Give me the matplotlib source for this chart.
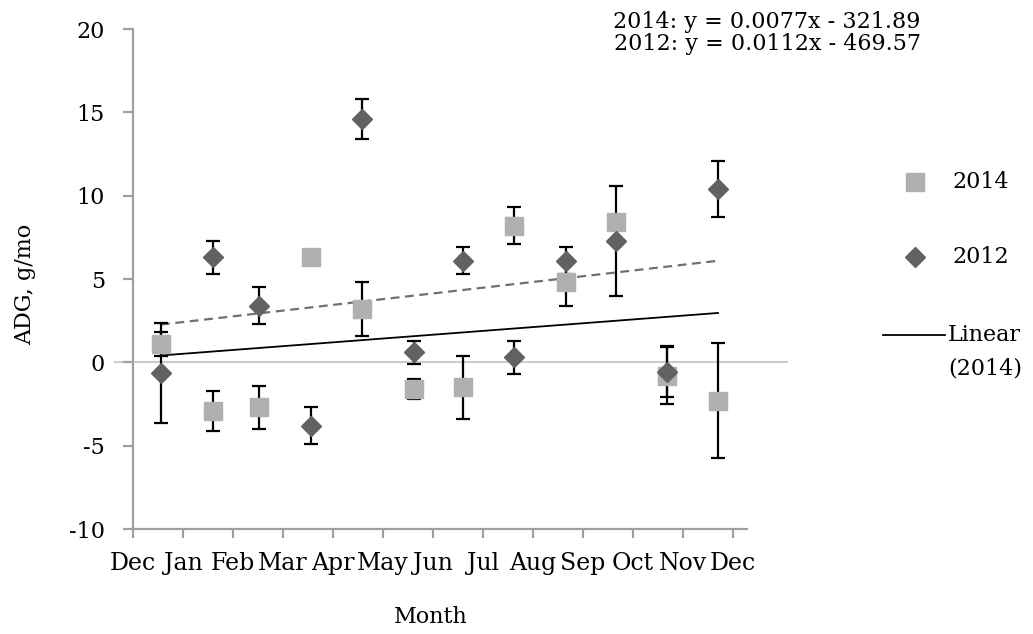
import numpy as np
import matplotlib
matplotlib.use("Agg")
from matplotlib import pyplot as plt
from matplotlib.lines import Line2D

plt.rcParams['font.family'] = 'DejaVu Serif'
plt.rcParams['axes.unicode_minus'] = False

# month labels on the date axis
month_labels = ["Dec", "Jan", "Feb", "Mar", "Apr", "May", "Jun",
                "Jul", "Aug", "Sep", "Oct", "Nov", "Dec"]

# sampling dates, in months from the first Dec
sample_x = [0.56, 1.6, 2.52, 3.56, 4.58, 5.62, 6.6, 7.62, 8.66, 9.66, 10.68, 11.7]

# ADG, g/mo
adg_2014 = [1.1, -2.9, -2.7, 6.3, 3.2, -1.6, -1.5, 8.2, 4.8, 8.4, -0.8, -2.3]
err_2014 = [0.7, 1.2, 1.3, 0.0, 1.6, 0.6, 1.9, 1.1, 1.4, 0.0, 1.7, 3.45]

adg_2012 = [-0.66, 6.3, 3.4, -3.8, 14.6, 0.6, 6.1, 0.3, 6.1, 7.3, -0.55, 10.4]
err_2012 = [3.0, 1.0, 1.1, 1.1, 1.2, 0.7, 0.8, 1.0, 0.8, 3.3, 1.55, 1.7]

eq_2014 = "2014: y = 0.0077x - 321.89"
eq_2012 = "2012: y = 0.0112x - 469.57"

col_2014 = "#b0b0b0"
col_2012 = "#626262"
axis_col = "#a0a0a0"
fs = 16

fig = plt.figure(figsize=(10.33, 6.34), dpi=100)
ax = fig.add_axes([133 / 1033, 1 - 529 / 634, 614 / 1033, 500 / 634])

x = np.array(sample_x)

# zero reference line, runs a bit past the plot area
ax.plot([-0.36, 13.08], [0, 0], color="#cccccc", lw=1.5, zorder=1, clip_on=False)

# trend lines
fit14 = np.polyfit(x, adg_2014, 1)
fit12 = np.polyfit(x, adg_2012, 1)
ax.plot(x, np.polyval(fit14, x), color="black", lw=1.3, zorder=2)
ax.plot(x, np.polyval(fit12, x), color="#707070", lw=1.6, ls=(0, (4, 2.5)), zorder=2)

# error bars under the markers
ax.errorbar(x, adg_2014, yerr=err_2014, fmt="none", ecolor="black",
            elinewidth=1.6, capsize=4.8, capthick=1.6, zorder=3)
ax.errorbar(x, adg_2012, yerr=err_2012, fmt="none", ecolor="black",
            elinewidth=1.6, capsize=4.8, capthick=1.6, zorder=3)

ax.plot(x, adg_2014, ls="none", marker="s", ms=13.5, color=col_2014, zorder=4)
ax.plot(x, adg_2012, ls="none", marker="D", ms=10.5, color=col_2012, zorder=5)

ax.set_xlim(0, 12.28)
ax.set_ylim(-10, 20)
ax.set_xticks(range(len(month_labels)))
ax.set_xticklabels(month_labels)
ax.set_yticks(range(-10, 21, 5))

for side in ["top", "right"]:
    ax.spines[side].set_visible(False)
for side in ["left", "bottom"]:
    ax.spines[side].set_color(axis_col)
    ax.spines[side].set_linewidth(1.6)

ax.tick_params(axis="y", direction="out", length=7.2, width=1.6, color=axis_col,
               pad=13, labelsize=fs)
ax.tick_params(axis="x", direction="out", length=6.5, width=1.6, color=axis_col,
               pad=10, labelsize=17)

fig.text(25 / 1033, 1 - 284 / 634, "ADG, g/mo", rotation=90,
         ha="center", va="center", fontsize=fs)
fig.text(431 / 1033, 1 - 617 / 634, "Month", ha="center", va="center", fontsize=fs)

# regression equations
fig.text(767 / 1033, 1 - 22 / 634, eq_2014, ha="center", va="center", fontsize=fs)
fig.text(767 / 1033, 1 - 44 / 634, eq_2012, ha="center", va="center", fontsize=fs)

# legend, drawn by hand to match the layout
tr = fig.transFigure
fig.add_artist(Line2D([915 / 1033], [1 - 182 / 634], transform=tr, ls="none",
                      marker="s", ms=13.5, color=col_2014))
fig.text(952 / 1033, 1 - 182 / 634, "2014", ha="left", va="center", fontsize=fs)
fig.add_artist(Line2D([915 / 1033], [1 - 257 / 634], transform=tr, ls="none",
                      marker="D", ms=10.5, color=col_2012))
fig.text(952 / 1033, 1 - 257 / 634, "2012", ha="left", va="center", fontsize=fs)
fig.add_artist(Line2D([883 / 1033, 945 / 1033], [1 - 335 / 634, 1 - 335 / 634],
                      transform=tr, color="black", lw=1.3))
fig.text(948 / 1033, 1 - 335 / 634, "Linear", ha="left", va="center", fontsize=fs)
fig.text(948 / 1033, 1 - 368 / 634, "(2014)", ha="left", va="center", fontsize=fs)

fig.savefig("out.png", dpi=100)
